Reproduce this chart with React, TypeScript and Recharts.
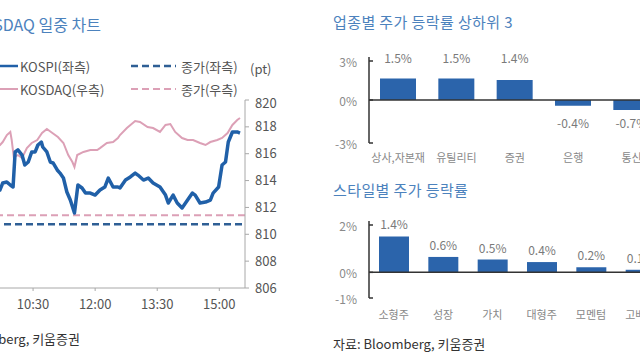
import React from "react";
import { LineChart, Line, XAxis, YAxis, ReferenceLine, BarChart, Bar, LabelList } from "recharts";

// intraday, minutes since 09:00
const kospiTime = [0, 20, 42, 46, 52, 57, 61, 64, 68, 74, 78, 83, 88, 93, 97, 102, 104, 110, 115, 119, 125, 129, 134, 139, 144, 150, 155, 161, 166, 173, 180, 187, 194, 199, 206, 213, 216, 224, 231, 238, 242, 250, 257, 264, 274, 282, 286, 293, 299, 306, 314, 321, 325, 332, 340, 347, 351, 359, 364, 369, 373, 379, 386, 390];
const kospiValue = [814.5, 814.0, 813.3, 813.82, 813.89, 813.67, 813.52, 816.13, 816.28, 815.9, 815.16, 815.38, 816.13, 816.13, 816.65, 816.87, 816.5, 816.13, 815.38, 815.31, 814.79, 814.56, 814.19, 813.15, 812.55, 811.58, 813.67, 813.45, 813.07, 813.07, 812.92, 813.3, 813.52, 814.19, 813.52, 813.52, 813.45, 814.04, 814.27, 814.56, 814.41, 814.04, 814.19, 813.82, 813.52, 812.92, 812.33, 812.92, 812.33, 811.96, 812.55, 813.07, 812.92, 812.33, 812.4, 812.55, 813.07, 813.52, 815.16, 815.38, 816.87, 817.62, 817.62, 817.54];
const kosdaqTime = [0, 20, 42, 46, 52, 57, 59, 62, 68, 74, 81, 88, 96, 103, 110, 118, 126, 134, 141, 147, 150, 154, 163, 173, 183, 187, 197, 206, 213, 216, 226, 238, 245, 256, 264, 274, 282, 289, 296, 306, 314, 322, 332, 340, 347, 357, 364, 372, 379, 386, 390];
const kosdaqValue = [816.5, 817.0, 816.65, 816.87, 817.39, 817.62, 817.02, 815.75, 815.9, 815.68, 816.42, 816.8, 817.02, 817.54, 817.84, 817.54, 817.24, 816.8, 815.9, 815.38, 815.01, 815.9, 816.13, 816.28, 816.28, 816.42, 816.8, 816.87, 817.17, 817.39, 817.91, 818.43, 818.36, 817.99, 817.91, 817.62, 818.14, 818.21, 817.62, 817.17, 817.02, 817.02, 816.8, 816.65, 816.87, 817.02, 817.17, 817.54, 818.14, 818.51, 818.66];
const kospiClose = 810.75;
const kosdaqClose = 811.42;
const timeTicks = [90, 180, 270, 360];
const timeLabels = ["10:30", "12:00", "13:30", "15:00"];
const priceTicks = [806, 808, 810, 812, 814, 816, 818, 820];

const sectorNames = ["상사,자본재", "유틸리티", "증권", "은행", "통신", "건설"];
const sectorChange = [1.5, 1.5, 1.4, -0.4, -0.7, -0.9];
const sectorTicks = [-3, 0, 3];

const styleNames = ["소형주", "성장", "가치", "대형주", "모멘텀", "고배당"];
const styleChange = [1.4, 0.6, 0.5, 0.4, 0.2, 0.1];
const styleTicks = [-1, 0, 1, 2];

const FONT = "'Noto Sans CJK KR', 'Noto Sans', sans-serif";
const BLUE = "#2060a8";
const PINK = "#dca0b6";
const BAR = "#2b64ab";
const TITLE = "#4c82bd";

const kospiData = kospiTime.map((t, i) => ({ t, v: kospiValue[i] }));
const kosdaqData = kosdaqTime.map((t, i) => ({ t, v: kosdaqValue[i] }));
const sectorData = sectorNames.map((name, i) => ({ name, value: sectorChange[i] }));
const styleData = styleNames.map((name, i) => ({ name, value: styleChange[i] }));

const PctTick = ({ x, y, payload }: any) => (
  <g>
    <text x={x} y={y} textAnchor="end" dominantBaseline="central" fontSize={12} fill="#8a8a8a">
      {payload.value}%
    </text>
    <line x1={x + 12} x2={x + 16} y1={y} y2={y} stroke="#333" strokeWidth={1.5} />
  </g>
);

const SectorLabel = ({ x, y, width, height, value }: any) => {
  const zero = y + height;
  const ly = value >= 0 ? zero - 43 : zero + 22;
  return (
    <text x={x + width / 2} y={ly} textAnchor="middle" dominantBaseline="central" fontSize={12} fill="#7a7a7a">
      {value.toFixed(1)}%
    </text>
  );
};

const legendText = { fontSize: 13, fill: "#555" };

export default function App() {
  return (
    <div style={{ position: "fixed", left: 0, top: 0, width: 640, height: 360, overflow: "hidden", background: "#fff", fontFamily: FONT }}>
      {/* left: intraday chart */}
      <div style={{ position: "absolute", left: -199, top: 12, width: 300, textAlign: "right", fontSize: 16, color: TITLE, whiteSpace: "nowrap" }}>
        KOSPI, KOSDAQ 일중 차트
      </div>
      <svg width={300} height={100} style={{ position: "absolute", left: 0, top: 50 }}>
        <line x1={0} x2={18} y1={16} y2={16} stroke={BLUE} strokeWidth={2.5} />
        <text x={20} y={16} dominantBaseline="central" {...legendText}>KOSPI(좌측)</text>
        <line x1={0} x2={18} y1={39} y2={39} stroke={PINK} strokeWidth={2} />
        <text x={20} y={39} dominantBaseline="central" {...legendText}>KOSDAQ(우측)</text>
        <line x1={131} x2={176} y1={16} y2={16} stroke="#2f5f95" strokeWidth={2.5} strokeDasharray="7 4" />
        <text x={181} y={16} dominantBaseline="central" {...legendText}>종가(좌측)</text>
        <line x1={131} x2={176} y1={39} y2={39} stroke={PINK} strokeWidth={2} strokeDasharray="7 4" />
        <text x={181} y={39} dominantBaseline="central" {...legendText}>종가(우측)</text>
        <text x={250} y={18} dominantBaseline="central" {...legendText}>(pt)</text>
      </svg>
      <div style={{ position: "absolute", left: -29, top: 95 }}>
        <LineChart width={319} height={223} margin={{ top: 5, right: 0, bottom: 0, left: 0 }}>
          <XAxis
            dataKey="t"
            type="number"
            domain={[0, 390]}
            ticks={timeTicks}
            tickFormatter={(v: number) => timeLabels[timeTicks.indexOf(v)]}
            padding={{ left: 0, right: 5 }}
            height={30}
            tickSize={3}
            tickMargin={9}
            stroke="#a8a8a8"
            tick={{ fontSize: 13, fill: "#555" }}
          />
          <YAxis yAxisId="left" hide domain={[806, 820]} />
          <YAxis
            yAxisId="right"
            orientation="right"
            domain={[806, 820]}
            ticks={priceTicks}
            width={45}
            tickSize={4}
            tickMargin={6}
            stroke="#a8a8a8"
            tick={{ fontSize: 13, fill: "#555" }}
          />
          <ReferenceLine yAxisId="right" y={kosdaqClose} stroke={PINK} strokeWidth={2} strokeDasharray="7 4" />
          <ReferenceLine yAxisId="left" y={kospiClose} stroke="#2f5f95" strokeWidth={2.5} strokeDasharray="7 4" />
          <Line yAxisId="right" data={kosdaqData} dataKey="v" stroke={PINK} strokeWidth={2} dot={false} isAnimationActive={false} type="linear" />
          <Line yAxisId="left" data={kospiData} dataKey="v" stroke={BLUE} strokeWidth={3.5} strokeLinejoin="round" dot={false} isAnimationActive={false} type="linear" />
        </LineChart>
      </div>
      <div style={{ position: "absolute", left: -200, top: 329, width: 280, textAlign: "right", fontSize: 13, color: "#333", whiteSpace: "nowrap" }}>
        자료: Bloomberg, 키움증권
      </div>

      {/* right top: sector */}
      <div style={{ position: "absolute", left: 333, top: 11, fontSize: 15, letterSpacing: 0.4, color: TITLE, whiteSpace: "nowrap" }}>
        업종별 주가 등락률 상하위 3
      </div>
      <div style={{ position: "absolute", left: 329, top: 52 }}>
        <BarChart width={390} height={121} data={sectorData} margin={{ top: 5, right: 0, bottom: 0, left: 0 }} barSize={36}>
          <XAxis dataKey="name" interval={0} tickLine={false} axisLine={false} tickSize={0} tickMargin={11} height={30} tick={{ fontSize: 11, fill: "#888" }} />
          <YAxis domain={[-3, 3]} ticks={sectorTicks} width={40} tickSize={0} tickMargin={12} tick={<PctTick />} axisLine={{ stroke: "#333", strokeWidth: 1.5 }} />
          <ReferenceLine y={0} stroke="#333" strokeWidth={1.5} />
          <Bar dataKey="value" fill={BAR} isAnimationActive={false}>
            <LabelList dataKey="value" content={<SectorLabel />} />
          </Bar>
        </BarChart>
      </div>

      {/* right bottom: style */}
      <div style={{ position: "absolute", left: 333, top: 179, fontSize: 15, letterSpacing: 0.4, color: TITLE, whiteSpace: "nowrap" }}>
        스타일별 주가 등락률
      </div>
      <div style={{ position: "absolute", left: 329, top: 216 }}>
        <BarChart width={336} height={112} data={styleData} margin={{ top: 5, right: 0, bottom: 0, left: 0 }} barSize={30}>
          <XAxis dataKey="name" interval={0} tickLine={false} axisLine={false} tickSize={0} tickMargin={13} height={30} tick={{ fontSize: 11, fill: "#888" }} />
          <YAxis domain={[-1, 2]} ticks={styleTicks} width={40} tickSize={0} tickMargin={12} tick={<PctTick />} axisLine={{ stroke: "#333", strokeWidth: 1.5 }} />
          <ReferenceLine y={0} stroke="#333" strokeWidth={1.5} />
          <Bar dataKey="value" fill={BAR} isAnimationActive={false}>
            <LabelList dataKey="value" position="top" offset={7} fontSize={12} fill="#7a7a7a" formatter={(v: any) => `${Number(v).toFixed(1)}%`} />
          </Bar>
        </BarChart>
      </div>
      <div style={{ position: "absolute", left: 333, top: 334, fontSize: 13, color: "#333", whiteSpace: "nowrap" }}>
        자료: Bloomberg, 키움증권
      </div>
    </div>
  );
}
